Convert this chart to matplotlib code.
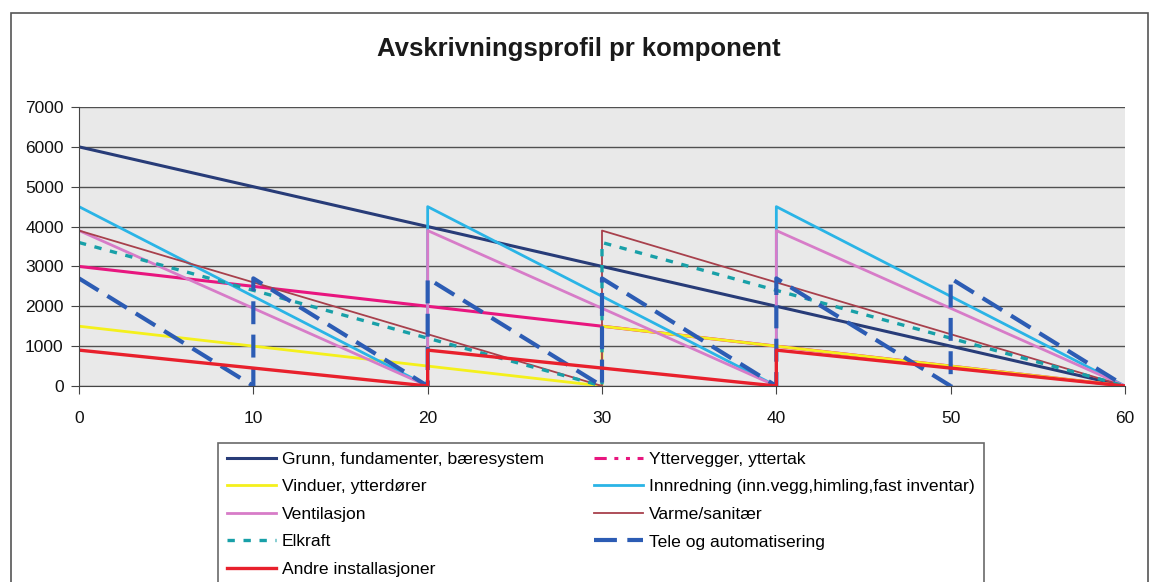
import matplotlib
matplotlib.use("Agg")
import matplotlib.pyplot as plt
from matplotlib.patches import Rectangle
from matplotlib.lines import Line2D

plt.rcParams.update({"font.family": ["Liberation Sans", "DejaVu Sans"], "font.size": 11})

# Component values (year, residual value); duplicate years mark renewals
grunn_x = [0, 10, 20, 30, 40, 50, 60]
grunn_y = [6000, 5000, 4000, 3000, 2000, 1000, 0]
ytterv_x = [0, 10, 20, 30, 40, 50, 60]
ytterv_y = [3000, 2500, 2000, 1500, 1000, 500, 0]
vinduer_x = [0, 10, 20, 30, 30, 40, 50, 60]
vinduer_y = [1500, 1000, 500, 0, 1500, 1000, 500, 0]
innred_x = [0, 20, 20, 40, 40, 60]
innred_y = [4500, 0, 4500, 0, 4500, 0]
vent_x = [0, 20, 20, 40, 40, 60]
vent_y = [3900, 0, 3900, 0, 3900, 0]
varme_x = [0, 30, 30, 60]
varme_y = [3900, 0, 3900, 0]
elkraft_x = [0, 30, 30, 60]
elkraft_y = [3600, 0, 3600, 0]
tele_x = [0, 10, 10, 20, 20, 30, 30, 40, 40, 50, 50, 60]
tele_y = [2700, 0, 2700, 0, 2700, 0, 2700, 0, 2700, 0, 2700, 0]
andre_x = [0, 20, 20, 40, 40, 60]
andre_y = [900, 0, 900, 0, 900, 0]

x_ticks = [0, 10, 20, 30, 40, 50, 60]
y_ticks = [0, 1000, 2000, 3000, 4000, 5000, 6000, 7000]

fig = plt.figure(figsize=(11.5, 5.82), dpi=100)
fig.patch.set_facecolor("white")
fig.add_artist(Rectangle((11/1150, -0.1), 1137/1150, 1 - 13/582 + 0.1, transform=fig.transFigure,
                         fill=False, edgecolor="#555555", lw=1.2))

ax = fig.add_axes([79/1150, 1 - 386/582, (1125 - 79)/1150, (386 - 107)/582])
ax.set_facecolor("#e9e9e9")

MAGENTA = "#e8167f"
lines = {}
lines["grunn"], = ax.plot(grunn_x, grunn_y, color="#283c78", lw=2.2, label="Grunn, fundamenter, bæresystem")
lines["ytterv"], = ax.plot(ytterv_x, ytterv_y, color=MAGENTA, lw=2.2, label="Yttervegger, yttertak")
lines["vinduer"], = ax.plot(vinduer_x, vinduer_y, color="#f4f01c", lw=2.0, label="Vinduer, ytterdører")
lines["innred"], = ax.plot(innred_x, innred_y, color="#2ab4e6", lw=2.0,
                           label="Innredning (inn.vegg,himling,fast inventar)")
lines["vent"], = ax.plot(vent_x, vent_y, color="#d77cc8", lw=2.0, label="Ventilasjon")
lines["varme"], = ax.plot(varme_x, varme_y, color="#a8404c", lw=1.3, label="Varme/sanitær")
lines["elkraft"], = ax.plot(elkraft_x, elkraft_y, color="#18a0a8", lw=2.4, dashes=(2.2, 2.6), label="Elkraft")
lines["tele"], = ax.plot(tele_x, tele_y, color="#2c5cb4", lw=3.0, dashes=(5.5, 2.5), label="Tele og automatisering")
lines["andre"], = ax.plot(andre_x, andre_y, color="#e8202c", lw=2.4, label="Andre installasjoner")

# legend key for the outer walls shows the long-dash-dot-dot pattern
ytterv_key = Line2D([], [], color=MAGENTA, lw=2.2, dashes=(4, 2.5, 1.3, 2.5, 1.3, 2.5))

ax.set_xlim(0, 60)
ax.set_ylim(0, 7000)
ax.set_xticks(x_ticks)
ax.set_yticks(y_ticks)
ax.yaxis.grid(True, color="#505050", lw=1.0)
ax.set_axisbelow(True)
for s in ("top", "right"):
    ax.spines[s].set_visible(False)
ax.spines["left"].set_color("#444444")
ax.spines["bottom"].set_color("#444444")
ax.tick_params(axis="both", direction="out", length=6, colors="#444444", labelcolor="#111111",
               labelsize=12.5)
ax.tick_params(axis="y", pad=5)
ax.tick_params(axis="x", pad=12)

fig.text(0.503, 1 - 49/582, "Avskrivningsprofil pr komponent", ha="center", va="center",
         fontsize=18.5, fontweight="bold", color="#1a1a1a")

order = ["grunn", "vinduer", "vent", "elkraft", "andre", "ytterv", "innred", "varme", "tele"]
handles = [ytterv_key if k == "ytterv" else lines[k] for k in order]
leg = fig.legend(handles, [lines[k].get_label() for k in order],
                 loc="upper left", bbox_to_anchor=(218/1150, 1 - 443/582, (984 - 218)/1150, 0),
                 mode="expand", ncol=2, fontsize=12.6, frameon=True, fancybox=False,
                 edgecolor="#444444", handlelength=2.8, handletextpad=0.35,
                 labelspacing=0.7, borderpad=0.5, borderaxespad=0)
leg.get_frame().set_linewidth(1.2)

fig.savefig("out.png", dpi=100, facecolor="white")
